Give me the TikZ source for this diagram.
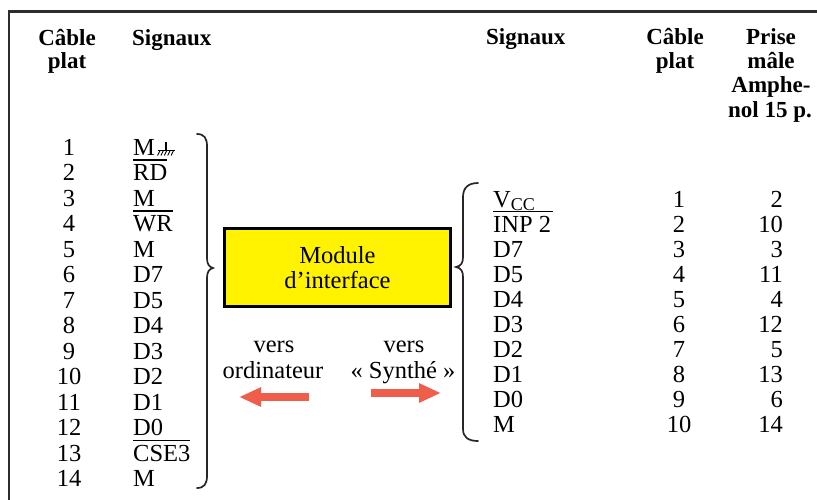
\documentclass[tikz,border=0pt]{standalone}
\usepackage{fontspec}
\setmainfont{Liberation Serif}[Ligatures=TeX]
\newfontfamily\timesf{Liberation Serif}[Ligatures=TeX]
\usetikzlibrary{arrows.meta}
\definecolor{boxyellow}{RGB}{255,243,0}
\definecolor{arrowred}{RGB}{239,94,74}
\definecolor{framegray}{RGB}{45,45,45}
\newcommand\ovl[1]{\vbox{\hrule height 1.4pt\kern 3.6pt\hbox{#1}}}
\begin{document}
\begin{tikzpicture}[x=1pt,y=-1pt,
  body/.style={inner sep=0pt, font=\timesf\fontsize{24.5}{25}\selectfont},
  head/.style={inner sep=0pt, font=\timesf\bfseries\fontsize{23}{24}\selectfont},
  bracepath/.style={line width=1.7pt, line cap=round, black!85},
  fatarrow/.style={arrowred, line width=7.5pt, -{Triangle[length=22pt,width=18pt]}},
  framerule/.style={framegray, line width=2.6pt}]
\useasboundingbox (0,0) rectangle (817,499);
% frame
\coordinate (fbl) at (9,500);
\coordinate (ftl) at (9,11.5);
\coordinate (ftr) at (818,11.5);
\draw[framerule] (fbl) -- (ftl) -- (ftr);
% headers left
\node[head, anchor=base] (hlc1) at (67,45) {Câble};
\node[head, anchor=base] (hlc2) at (67,68) {plat};
\node[head, anchor=base west] (hls) at (132,45) {Signaux};
% headers right
\node[head, anchor=base west] (hrs) at (486,44) {Signaux};
\node[head, anchor=base] (hrc1) at (675,44) {Câble};
\node[head, anchor=base] (hrc2) at (675,68) {plat};
\node[head, anchor=base] (hp1) at (771,44) {Prise};
\node[head, anchor=base] (hp2) at (771,68) {mâle};
\node[head, anchor=base] (hp3) at (771,92) {Amphe-};
\node[head, anchor=base] (hp4) at (770,117) {nol 15 p.};
% left rows
\foreach \n/\s [count=\i] in {1/M, 2/{\ovl{RD}}, 3/M, 4/{\ovl{WR}}, 5/M, 6/D7, 7/D5, 8/D4, 9/D3, 10/D2, 11/D1, 12/D0, 13/{\ovl{CSE3}}, 14/M}{
  \node[body, anchor=base] (ln\i) at (69,{155+25.5*(\i-1)}) {\n};
  \node[body, anchor=base west] (ls\i) at (133,{155+25.5*(\i-1)}) {\s};
}
% ground symbol after M (row 1)
\draw[line width=1.1pt] (166,141.5) -- (166,150.5);
\draw[line width=1.3pt] (157.5,150.5) -- (174.5,150.5);
\foreach \k in {0,...,4}{
  \draw[line width=0.9pt] ({160+3.4*\k},150.5) -- ({157.5+3.4*\k},155.5);
}
% right rows
\foreach \s/\p [count=\i] in {{V\raisebox{-3.5pt}{\fontsize{18}{18}\selectfont CC}}/2, {\ovl{INP 2\kern2pt}}/10, D7/3, D5/11, D4/4, D3/12, D2/5, D1/13, D0/6, M/14}{
  \node[body, anchor=base west] (rs\i) at (493,{207+25.1*(\i-1)}) {\s};
  \node[body, anchor=base] (rc\i) at (679,{207+25.1*(\i-1)}) {\i};
  \node[body, anchor=base east] (rp\i) at (783,{207+25.1*(\i-1)}) {\p};
}
% braces
\draw[bracepath] (197,134) .. controls (204,134) and (207,138) .. (207,146)
  -- (207,258) .. controls (207,264) and (209,267) .. (213,268)
  .. controls (209,269) and (207,272) .. (207,278)
  -- (207,476) .. controls (207,484) and (204,488) .. (197,488);
\draw[bracepath] (478,183) .. controls (468,183) and (463,188) .. (463,197)
  -- (463,257) .. controls (463,263) and (461,266) .. (456,267)
  .. controls (461,268) and (463,271) .. (463,277)
  -- (463,429) .. controls (463,437) and (468,441) .. (478,441);
% module box
\node[draw=black, fill=boxyellow, line width=2.6pt, inner sep=0pt,
  minimum width=226pt, minimum height=78pt, align=center,
  font=\timesf\fontsize{24.5}{25}\selectfont] (mod) at (337.5,267.5) {Module\\d’interface};
% direction labels
\node[body, anchor=base] (v1) at (274,352) {vers};
\node[body, anchor=base] (v2) at (273,378) {ordinateur};
\node[body, anchor=base] (v3) at (404,352) {vers};
\node[body, anchor=base] (v4) at (403,378) {« Synthé »};
% arrows
\coordinate (la1) at (309,397);
\coordinate (la2) at (239,397);
\coordinate (ra1) at (371,393);
\coordinate (ra2) at (441,393);
\draw[fatarrow] (la1) -- (la2);
\draw[fatarrow] (ra1) -- (ra2);
\end{tikzpicture}
\end{document}
